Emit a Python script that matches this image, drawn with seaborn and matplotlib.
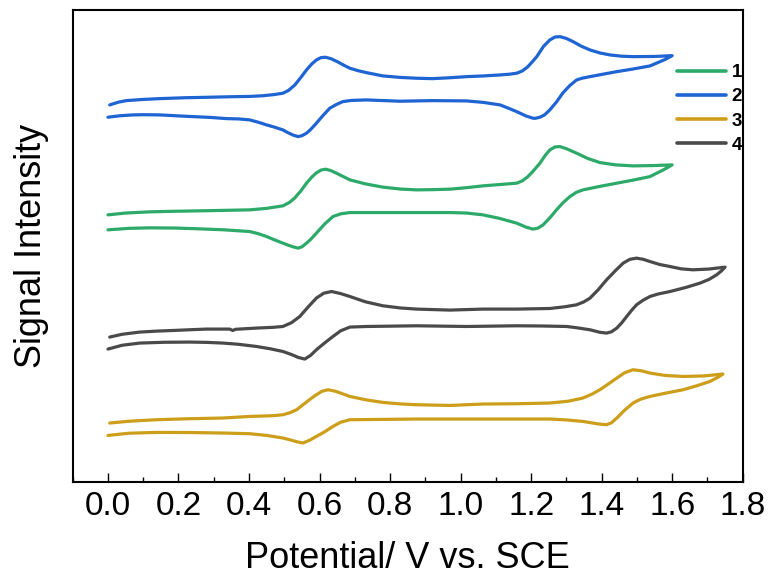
import matplotlib
matplotlib.use("Agg")
import matplotlib.pyplot as plt
import pandas as pd
import seaborn as sns
from matplotlib.ticker import MultipleLocator

# Cyclic voltammograms: forward scan followed by the reverse scan back to 0 V.
samples = ["1", "2", "3", "4"]
colors = ["#2DAA6A", "#1E64D2", "#CC9E1A", "#4A4A4A"]

potential_1 = [0.000, 0.050, 0.118, 0.190, 0.260, 0.330, 0.402, 0.450, 0.496, 0.515,
               0.530, 0.547, 0.563, 0.578, 0.591, 0.604, 0.617, 0.632, 0.652, 0.670,
               0.686, 0.730, 0.780, 0.830, 0.875, 0.920, 0.970, 1.017, 1.063, 1.110,
               1.159, 1.175, 1.190, 1.205, 1.225, 1.240, 1.253, 1.268, 1.282, 1.300,
               1.329, 1.360, 1.395, 1.440, 1.489, 1.545, 1.600,
               1.575, 1.537, 1.490, 1.443, 1.395, 1.347, 1.328, 1.310, 1.290, 1.272,
               1.253, 1.234, 1.220, 1.205, 1.185, 1.159, 1.110, 1.063, 1.017, 0.970,
               0.875, 0.780, 0.686, 0.660, 0.638, 0.615, 0.591, 0.575, 0.563, 0.550,
               0.539, 0.525, 0.510, 0.496, 0.470, 0.450, 0.425, 0.402, 0.330, 0.260,
               0.190, 0.118, 0.060, 0.000]
signal_1 = [267.0, 268.8, 270.0, 270.6, 271.0, 271.5, 272.0, 273.5, 276.0, 279.5,
            284.0, 291.0, 298.7, 304.8, 309.0, 311.8, 312.7, 311.3, 308.0, 304.8,
            302.0, 298.0, 294.7, 292.8, 292.0, 292.2, 292.7, 294.2, 296.0, 297.3,
            298.7, 301.0, 305.0, 310.5, 318.7, 326.5, 332.0, 335.0, 335.3, 333.2,
            328.7, 323.5, 319.3, 317.0, 316.0, 316.3, 317.0,
            312.0, 305.3, 301.8, 298.7, 295.5, 292.0, 289.5, 285.3, 279.0, 272.0,
            264.0, 257.0, 253.8, 252.7, 254.8, 258.7, 263.5, 267.0, 268.8, 269.3,
            269.3, 269.3, 269.3, 268.0, 265.3, 258.0, 248.7, 242.5, 238.7, 235.0,
            233.7, 235.0, 236.8, 238.7, 242.3, 245.3, 248.3, 250.3, 252.0, 253.0,
            253.8, 254.0, 253.5, 252.0]

potential_2 = [0.005, 0.030, 0.052, 0.100, 0.147, 0.220, 0.289, 0.350, 0.402, 0.440,
               0.470, 0.496, 0.512, 0.530, 0.547, 0.563, 0.578, 0.591, 0.604, 0.617,
               0.632, 0.652, 0.670, 0.686, 0.710, 0.733, 0.780, 0.830, 0.875, 0.921,
               0.970, 1.017, 1.065, 1.112, 1.140, 1.159, 1.175, 1.190, 1.203, 1.216,
               1.235, 1.253, 1.268, 1.282, 1.300, 1.319, 1.342, 1.367, 1.395, 1.424,
               1.455, 1.489, 1.551, 1.600,
               1.580, 1.537, 1.490, 1.443, 1.400, 1.367, 1.345, 1.329, 1.310, 1.290,
               1.272, 1.253, 1.238, 1.225, 1.212, 1.205, 1.185, 1.159, 1.135, 1.112,
               1.065, 1.017, 0.921, 0.828, 0.733, 0.690, 0.666, 0.648, 0.629, 0.610,
               0.591, 0.575, 0.563, 0.550, 0.539, 0.525, 0.510, 0.496, 0.470, 0.450,
               0.425, 0.402, 0.370, 0.336, 0.290, 0.240, 0.190, 0.147, 0.100, 0.071,
               0.035, 0.000]
signal_2 = [377.0, 379.8, 381.3, 382.5, 383.3, 384.2, 384.7, 385.2, 385.5, 386.2,
            387.3, 388.7, 391.5, 397.0, 404.5, 412.0, 418.0, 422.0, 424.3, 424.7,
            423.3, 420.0, 416.5, 413.7, 411.2, 409.3, 406.0, 404.5, 403.7, 403.3,
            404.2, 405.3, 406.0, 407.0, 407.8, 408.7, 411.0, 415.0, 420.0, 425.3,
            435.5, 442.0, 445.0, 445.3, 443.5, 440.3, 435.8, 432.0, 429.0, 427.0,
            425.8, 425.3, 425.5, 426.3,
            422.5, 416.0, 413.0, 410.3, 407.5, 405.3, 403.8, 402.0, 396.5, 389.0,
            380.0, 372.0, 367.0, 364.7, 363.6, 363.7, 366.0, 370.3, 373.8, 377.0,
            379.5, 381.0, 381.3, 380.7, 382.0, 381.5, 380.3, 377.5, 373.7, 366.5,
            358.7, 352.5, 348.7, 346.2, 345.3, 346.8, 349.3, 352.0, 355.0, 357.0,
            359.8, 362.0, 363.0, 363.3, 364.5, 365.3, 366.2, 367.0, 367.2, 367.0,
            366.2, 364.7]

potential_3 = [0.005, 0.060, 0.137, 0.230, 0.326, 0.402, 0.467, 0.496, 0.516, 0.535,
               0.555, 0.575, 0.591, 0.607, 0.624, 0.645, 0.665, 0.686, 0.730, 0.780,
               0.830, 0.875, 0.970, 1.063, 1.159, 1.253, 1.305, 1.347, 1.372, 1.395,
               1.420, 1.443, 1.465, 1.489, 1.512, 1.537, 1.580, 1.631, 1.690, 1.744,
               1.730, 1.707, 1.670, 1.631, 1.580, 1.537, 1.510, 1.489, 1.465, 1.443,
               1.428, 1.414, 1.390, 1.347, 1.300, 1.253, 1.063, 0.875, 0.686, 0.660,
               0.638, 0.615, 0.591, 0.572, 0.553, 0.535, 0.515, 0.496, 0.450, 0.402,
               0.326, 0.230, 0.137, 0.060, 0.000]
signal_3 = [58.7, 60.5, 62.0, 63.0, 63.7, 65.3, 66.0, 67.0, 69.0, 72.0,
            77.5, 83.0, 87.0, 90.5, 92.0, 90.5, 88.0, 85.3, 82.0, 79.3,
            77.8, 77.0, 76.3, 77.7, 78.0, 78.7, 80.5, 83.7, 87.5, 92.0,
            98.0, 103.7, 109.0, 112.0, 111.0, 108.7, 106.3, 105.3, 105.8, 107.7,
            104.5, 100.3, 96.0, 92.0, 88.5, 85.3, 82.5, 78.7, 71.5, 63.7,
            59.0, 57.0, 57.8, 60.3, 61.8, 62.7, 62.7, 62.7, 62.0, 59.5,
            55.3, 50.0, 45.3, 41.5, 38.7, 40.0, 42.0, 43.7, 46.3, 48.0,
            48.7, 49.2, 49.3, 48.5, 46.3]

potential_4 = [0.005, 0.040, 0.090, 0.140, 0.184, 0.230, 0.279, 0.345, 0.354, 0.362,
               0.421, 0.470, 0.496, 0.520, 0.544, 0.568, 0.591, 0.612, 0.634, 0.660,
               0.686, 0.730, 0.780, 0.830, 0.875, 0.970, 1.063, 1.159, 1.253, 1.295,
               1.329, 1.350, 1.367, 1.390, 1.414, 1.440, 1.461, 1.480, 1.499, 1.518,
               1.537, 1.565, 1.594, 1.625, 1.659, 1.705, 1.750,
               1.740, 1.726, 1.705, 1.679, 1.640, 1.594, 1.560, 1.537, 1.517, 1.499,
               1.485, 1.471, 1.457, 1.443, 1.428, 1.414, 1.395, 1.367, 1.330, 1.301,
               1.230, 1.159, 1.017, 0.875, 0.733, 0.686, 0.660, 0.638, 0.615, 0.591,
               0.575, 0.558, 0.540, 0.520, 0.496, 0.460, 0.421, 0.370, 0.326, 0.280,
               0.232, 0.160, 0.090, 0.040, 0.000]
signal_4 = [144.7, 147.5, 149.7, 150.7, 151.3, 152.0, 152.7, 152.7, 151.3, 152.5,
            153.7, 154.5, 155.3, 159.0, 165.3, 175.0, 183.7, 188.6, 190.3, 188.2,
            185.3, 180.0, 176.0, 173.8, 172.7, 171.7, 172.7, 172.7, 173.3, 175.0,
            177.0, 180.0, 183.7, 192.0, 202.0, 211.5, 218.7, 222.5, 223.7, 222.5,
            220.3, 217.3, 215.3, 213.0, 212.0, 212.8, 214.7,
            211.0, 207.0, 202.5, 198.7, 194.5, 190.3, 187.8, 185.3, 181.5, 177.0,
            171.5, 165.3, 159.0, 153.7, 150.0, 148.7, 149.5, 152.0, 154.0, 155.3,
            155.8, 156.0, 155.3, 156.0, 155.3, 154.7, 151.0, 145.3, 139.0, 132.0,
            126.5, 122.7, 124.3, 127.3, 130.3, 133.0, 135.3, 137.5, 138.7, 139.4,
            139.7, 139.5, 138.7, 136.5, 132.7]

xticks = [0.0, 0.2, 0.4, 0.6, 0.8, 1.0, 1.2, 1.4, 1.6, 1.8]

frames = []
for name, pot, sig in [("1", potential_1, signal_1), ("2", potential_2, signal_2),
                       ("3", potential_3, signal_3), ("4", potential_4, signal_4)]:
    frames.append(pd.DataFrame({"potential": pot, "signal": sig, "sample": name,
                                "step": range(len(pot))}))
df = pd.concat(frames, ignore_index=True)

sns.set_theme(style="white")
plt.rcParams["font.family"] = ["Liberation Sans", "DejaVu Sans"]
plt.rcParams["text.color"] = "black"
plt.rcParams["axes.labelcolor"] = "black"
plt.rcParams["xtick.color"] = "black"
plt.rcParams["ytick.color"] = "black"

fig = plt.figure(figsize=(7.71, 5.80), dpi=100)
ax = fig.add_axes([0.0943, 0.1695, 0.8690, 0.8133])

sns.lineplot(data=df, x="potential", y="signal", hue="sample", hue_order=samples,
             palette=dict(zip(samples, colors)), sort=False, estimator=None,
             linewidth=2.3, ax=ax)
for line in ax.get_lines():
    line.set_solid_joinstyle("round")
    line.set_solid_capstyle("round")

ax.set_xlim(-0.1, 1.8)
ax.set_ylim(0, 472)
ax.set_xticks(xticks)
ax.set_xticklabels([f"{t:.1f}" for t in xticks])
ax.xaxis.set_minor_locator(MultipleLocator(0.1))
ax.set_yticks([])
ax.tick_params(axis="x", which="major", direction="in", length=6.5, width=1.0,
               color="black", labelcolor="black", labelsize=24, pad=6.5,
               bottom=True, top=False)
ax.tick_params(axis="x", which="minor", direction="in", length=3.5, width=1.0,
               color="black", bottom=True, top=False)
for s in ax.spines.values():
    s.set_color("black")
    s.set_linewidth(1.5)

ax.set_xlabel("Potential/ V vs. SCE", fontsize=26, labelpad=14, color="black")
ax.set_ylabel("Signal Intensity", fontsize=26, labelpad=17, color="black")

handles, labels = ax.get_legend_handles_labels()
leg = ax.legend(handles, labels, loc="upper left", bbox_to_anchor=(0.902, 0.8855),
                frameon=False, borderpad=0, borderaxespad=0, handlelength=2.6,
                handletextpad=0.3, labelspacing=0.38,
                prop={"weight": "bold", "size": 13.5})
for txt in leg.get_texts():
    txt.set_color("black")
for h in leg.get_lines():
    h.set_linewidth(2.6)

fig.savefig("out.png", dpi=100)
